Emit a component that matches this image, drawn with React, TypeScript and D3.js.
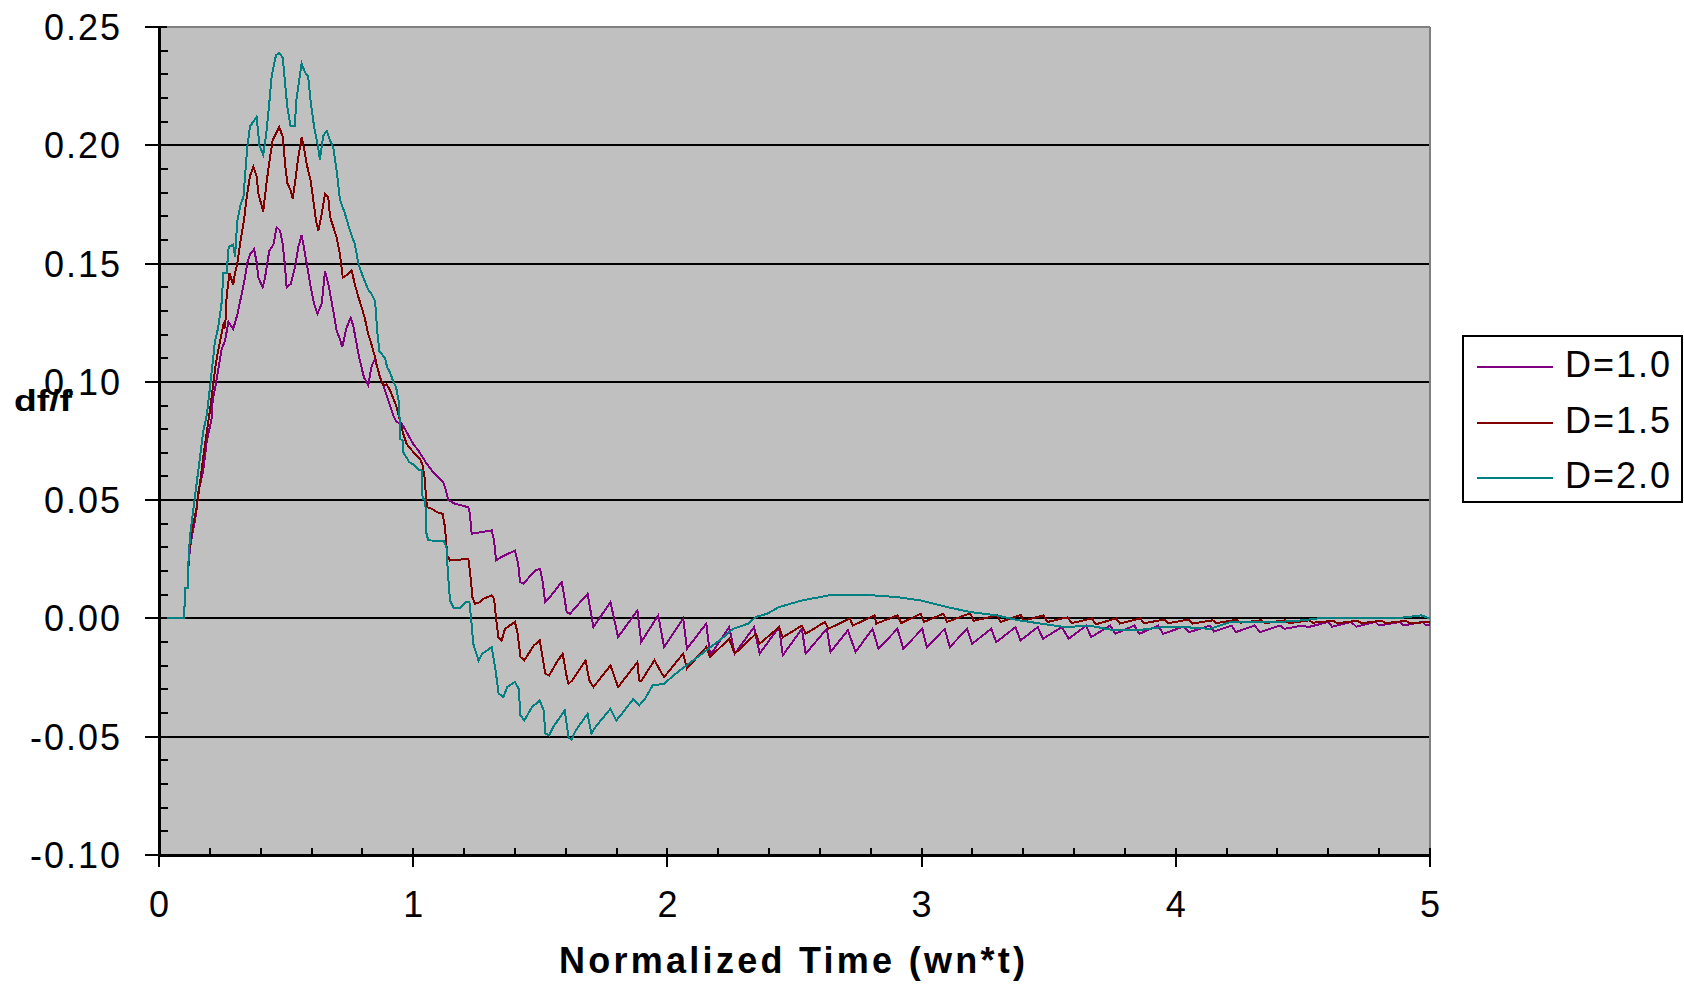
import React from 'react';
import * as d3 from 'd3';

// Step response of df/f: [normalized time, df/f]
const SERIES_NAMES = ['D=1.0', 'D=1.5', 'D=2.0'];

const D10: [number, number][] = [
  [0, 0], [0.1, 0], [0.101, 0.0127], [0.113, 0.0127], [0.116, 0.022], [0.122, 0.03], [0.135, 0.038], [0.146, 0.044],
  [0.155, 0.0535], [0.174, 0.0626], [0.188, 0.075], [0.207, 0.0844], [0.211, 0.092], [0.223, 0.0985],
  [0.236, 0.107], [0.247, 0.114], [0.26, 0.1175], [0.273, 0.1253], [0.292, 0.1224], [0.309, 0.1288],
  [0.325, 0.137], [0.338, 0.144], [0.347, 0.15], [0.358, 0.154], [0.374, 0.156], [0.384, 0.1507],
  [0.391, 0.144], [0.408, 0.14], [0.417, 0.144], [0.434, 0.1555], [0.45, 0.158], [0.463, 0.1654],
  [0.476, 0.164], [0.487, 0.158], [0.496, 0.1485], [0.502, 0.14], [0.518, 0.1414], [0.535, 0.1485],
  [0.548, 0.157], [0.561, 0.162], [0.57, 0.157], [0.581, 0.15], [0.597, 0.14], [0.61, 0.133],
  [0.623, 0.1288], [0.64, 0.133], [0.653, 0.1466], [0.666, 0.1414], [0.679, 0.134], [0.692, 0.126],
  [0.699, 0.1217], [0.712, 0.118], [0.721, 0.1147], [0.738, 0.123], [0.754, 0.127], [0.764, 0.1238],
  [0.775, 0.1175], [0.784, 0.112], [0.797, 0.106], [0.806, 0.102], [0.823, 0.0985], [0.837, 0.107],
  [0.85, 0.1097], [0.859, 0.106], [0.872, 0.1013], [0.885, 0.0978], [0.898, 0.0936], [0.911, 0.0893],
  [0.924, 0.0851], [0.935, 0.083], [0.955, 0.0823], [0.968, 0.08], [0.985, 0.0766], [1.0, 0.0738],
  [1.02, 0.071], [1.033, 0.0689], [1.053, 0.0654], [1.073, 0.0626], [1.092, 0.0604], [1.112, 0.0583],
  [1.121, 0.0569], [1.132, 0.0527], [1.138, 0.05], [1.164, 0.0485], [1.217, 0.047], [1.223, 0.0442],
  [1.23, 0.0358], [1.269, 0.0365], [1.309, 0.0372], [1.318, 0.033], [1.326, 0.0245], [1.348, 0.026],
  [1.4, 0.0287], [1.413, 0.0231], [1.42, 0.0154], [1.433, 0.0147], [1.481, 0.0203], [1.499, 0.021],
  [1.51, 0.015], [1.519, 0.0069], [1.538, 0.009], [1.584, 0.0154], [1.59, 0.012], [1.604, 0.0027],
  [1.617, 0.002], [1.686, 0.0104], [1.709, -0.0037], [1.776, 0.0069], [1.806, -0.0079], [1.882, 0.0034],
  [1.897, -0.01], [1.964, 0.0013], [1.987, -0.0121], [2.062, 0], [2.077, -0.0128], [2.153, -0.0022],
  [2.168, -0.0156], [2.243, -0.0037], [2.265, -0.0149], [2.341, -0.0037], [2.363, -0.0149],
  [2.439, -0.0037], [2.454, -0.0156], [2.529, -0.0044], [2.544, -0.0149], [2.627, -0.0044],
  [2.642, -0.0142], [2.71, -0.005], [2.74, -0.0142], [2.807, -0.0044], [2.83, -0.0128], [2.905, -0.0044],
  [2.928, -0.0128], [3.003, -0.0044], [3.02, -0.0121], [3.091, -0.0044], [3.111, -0.0121],
  [3.179, -0.0044], [3.199, -0.0107], [3.274, -0.0044], [3.294, -0.01], [3.369, -0.0037],
  [3.389, -0.0093], [3.457, -0.0037], [3.477, -0.0086], [3.552, -0.0037], [3.579, -0.0086],
  [3.647, -0.003], [3.667, -0.0079], [3.742, -0.003], [3.762, -0.0065], [3.837, -0.003],
  [3.857, -0.0065], [3.931, -0.003], [3.95, -0.0065], [4.03, -0.0035], [4.053, -0.0058],
  [4.134, -0.003], [4.15, -0.0055], [4.22, -0.003], [4.236, -0.0058], [4.31, -0.003], [4.331, -0.0058],
  [4.41, -0.003], [4.427, -0.0044], [4.5, -0.003], [4.52, -0.0037], [4.6, -0.0015], [4.615, -0.0035],
  [4.69, -0.0015], [4.71, -0.0035], [4.785, -0.0015], [4.8, -0.003], [4.88, -0.0015], [4.895, -0.003],
  [4.97, -0.0015], [4.985, -0.003], [5.0, -0.0025],
];

const D15: [number, number][] = [
  [0, 0], [0.1, 0], [0.101, 0.0127], [0.113, 0.0127], [0.116, 0.023], [0.122, 0.033], [0.135, 0.04], [0.146, 0.0456],
  [0.161, 0.057], [0.174, 0.068], [0.188, 0.079], [0.198, 0.086], [0.211, 0.097], [0.224, 0.108],
  [0.236, 0.115], [0.255, 0.125], [0.26, 0.1226], [0.266, 0.136], [0.277, 0.146], [0.292, 0.141],
  [0.299, 0.146], [0.308, 0.15], [0.321, 0.16], [0.334, 0.168], [0.345, 0.178], [0.358, 0.187],
  [0.371, 0.191], [0.384, 0.187], [0.391, 0.1795], [0.41, 0.172], [0.424, 0.185], [0.437, 0.195],
  [0.447, 0.202], [0.46, 0.205], [0.473, 0.2077], [0.487, 0.2035], [0.496, 0.192], [0.505, 0.184],
  [0.518, 0.181], [0.526, 0.1774], [0.535, 0.184], [0.548, 0.195], [0.561, 0.2035], [0.57, 0.199],
  [0.581, 0.192], [0.597, 0.185], [0.607, 0.1767], [0.618, 0.168], [0.627, 0.164], [0.64, 0.171],
  [0.653, 0.1795], [0.666, 0.178], [0.673, 0.1697], [0.686, 0.1654], [0.699, 0.161], [0.712, 0.154],
  [0.723, 0.144], [0.745, 0.1457], [0.758, 0.147], [0.771, 0.141], [0.784, 0.136], [0.797, 0.1316],
  [0.81, 0.1267], [0.823, 0.1203], [0.837, 0.1154], [0.85, 0.1104], [0.859, 0.106], [0.869, 0.102],
  [0.882, 0.0985], [0.895, 0.099], [0.909, 0.0964], [0.922, 0.0929], [0.935, 0.0893], [0.948, 0.0837],
  [0.961, 0.078], [0.974, 0.0738], [0.99, 0.0717], [1.011, 0.0689], [1.027, 0.0675], [1.037, 0.0647],
  [1.046, 0.059], [1.05, 0.0513], [1.055, 0.047], [1.073, 0.0464], [1.092, 0.045], [1.116, 0.0442],
  [1.125, 0.0386], [1.134, 0.0266], [1.145, 0.0245], [1.217, 0.0252], [1.223, 0.0203], [1.233, 0.009],
  [1.243, 0.0062], [1.263, 0.0069], [1.276, 0.0083], [1.309, 0.0097], [1.318, 0.0083], [1.326, 0],
  [1.335, -0.0079], [1.348, -0.0093], [1.361, -0.0044], [1.4, -0.0015], [1.41, -0.0058],
  [1.422, -0.0163], [1.437, -0.0177], [1.475, -0.0114], [1.498, -0.0093], [1.513, -0.0191],
  [1.52, -0.0234], [1.535, -0.0241], [1.565, -0.0185], [1.588, -0.0149], [1.603, -0.0241],
  [1.611, -0.0276], [1.626, -0.0262], [1.678, -0.0177], [1.693, -0.0262], [1.709, -0.029],
  [1.776, -0.0199], [1.799, -0.0269], [1.806, -0.029], [1.882, -0.0185], [1.889, -0.0262],
  [1.897, -0.0265], [1.949, -0.0177], [1.979, -0.0234], [1.987, -0.0248], [2.062, -0.0149],
  [2.077, -0.0212], [2.153, -0.0121], [2.168, -0.0163], [2.243, -0.0086], [2.265, -0.0149],
  [2.348, -0.0065], [2.363, -0.0107], [2.439, -0.0037], [2.454, -0.008], [2.529, -0.003],
  [2.544, -0.0065], [2.619, -0.0015], [2.634, -0.0044], [2.717, 0], [2.73, -0.003], [2.815, 0.0013],
  [2.822, -0.0022], [2.905, 0.0013], [2.92, -0.002], [2.996, 0.002], [3.01, -0.0015], [3.086, 0.002],
  [3.1, -0.0015], [3.191, 0.0022], [3.205, -0.001], [3.297, 0.0013], [3.31, -0.0015], [3.39, 0.0015],
  [3.4, -0.001], [3.48, 0.0013], [3.495, -0.0015], [3.575, 0.0005], [3.59, -0.002], [3.67, 0],
  [3.685, -0.0025], [3.765, 0], [3.78, -0.0022], [3.86, 0], [3.875, -0.002], [3.955, -0.0005],
  [3.97, -0.002], [4.05, -0.0005], [4.065, -0.0022], [4.145, -0.0008], [4.16, -0.002], [4.24, -0.0005],
  [4.255, -0.0018], [4.335, -0.0008], [4.35, -0.002], [4.43, -0.0008], [4.445, -0.002],
  [4.525, -0.0008], [4.54, -0.0018], [4.62, -0.001], [4.635, -0.002], [4.715, -0.001], [4.73, -0.002],
  [4.81, -0.001], [4.825, -0.002], [4.905, -0.001], [4.92, -0.002], [5.0, -0.0015],
];

const D20: [number, number][] = [
  [0, 0], [0.1, 0], [0.101, 0.0127], [0.113, 0.0127], [0.116, 0.024], [0.122, 0.035], [0.135, 0.046], [0.148, 0.057],
  [0.161, 0.068], [0.174, 0.079], [0.188, 0.086], [0.201, 0.098], [0.211, 0.108], [0.22, 0.117],
  [0.233, 0.123], [0.247, 0.134], [0.253, 0.146], [0.266, 0.146], [0.274, 0.157], [0.292, 0.158],
  [0.299, 0.153], [0.308, 0.168], [0.321, 0.175], [0.332, 0.178], [0.347, 0.199], [0.358, 0.208],
  [0.371, 0.21], [0.384, 0.212], [0.395, 0.2], [0.41, 0.196], [0.421, 0.204], [0.434, 0.218],
  [0.443, 0.229], [0.46, 0.238], [0.473, 0.239], [0.487, 0.237], [0.496, 0.226], [0.505, 0.216],
  [0.518, 0.208], [0.535, 0.208], [0.539, 0.218], [0.548, 0.225], [0.561, 0.2346], [0.574, 0.231],
  [0.587, 0.229], [0.597, 0.218], [0.61, 0.208], [0.623, 0.201], [0.633, 0.194], [0.646, 0.204],
  [0.66, 0.206], [0.673, 0.202], [0.686, 0.199], [0.699, 0.189], [0.712, 0.177], [0.732, 0.171],
  [0.751, 0.164], [0.771, 0.158], [0.784, 0.15], [0.804, 0.144], [0.823, 0.139], [0.837, 0.137],
  [0.85, 0.134], [0.859, 0.121], [0.867, 0.113], [0.889, 0.11], [0.898, 0.106], [0.909, 0.104],
  [0.922, 0.1], [0.932, 0.098], [0.945, 0.091], [0.948, 0.076], [0.959, 0.075], [0.962, 0.07],
  [0.974, 0.068], [0.985, 0.066], [1.003, 0.065], [1.02, 0.063], [1.033, 0.0625], [1.037, 0.0507],
  [1.048, 0.05], [1.05, 0.037], [1.059, 0.033], [1.121, 0.0327], [1.132, 0.0296], [1.136, 0.0196],
  [1.145, 0.0076], [1.158, 0.0046], [1.186, 0.0046], [1.206, 0.0069], [1.221, 0.0069], [1.228, 0],
  [1.236, -0.0106], [1.257, -0.0178], [1.272, -0.0149], [1.309, -0.0121], [1.325, -0.0227],
  [1.336, -0.0318], [1.355, -0.0332], [1.37, -0.029], [1.4, -0.0269], [1.415, -0.0297],
  [1.422, -0.041], [1.437, -0.0431], [1.467, -0.0375], [1.498, -0.0347], [1.513, -0.0389],
  [1.52, -0.0487], [1.535, -0.0494], [1.55, -0.046], [1.596, -0.0389], [1.611, -0.0502],
  [1.622, -0.0513], [1.64, -0.0473], [1.686, -0.0403], [1.701, -0.0487], [1.716, -0.046],
  [1.776, -0.0382], [1.799, -0.0431], [1.821, -0.0403], [1.866, -0.034], [1.889, -0.0368],
  [1.912, -0.034], [1.942, -0.0283], [1.987, -0.0276], [2.032, -0.0234], [2.092, -0.0185],
  [2.153, -0.0135], [2.213, -0.0086], [2.258, -0.0044], [2.318, -0.0022], [2.348, 0.0006],
  [2.393, 0.002], [2.439, 0.0048], [2.529, 0.0076], [2.634, 0.0097], [2.815, 0.0097], [2.905, 0.009],
  [2.996, 0.0076], [3.101, 0.0048], [3.191, 0.0027], [3.294, 0.0013], [3.382, -0.0008],
  [3.47, -0.0022], [3.565, -0.0037], [3.66, -0.003], [3.755, -0.005], [3.85, -0.005], [3.944, -0.0037],
  [4.039, -0.0037], [4.134, -0.0044], [4.216, -0.0015], [4.31, -0.0015], [4.405, -0.0015],
  [4.5, -0.0008], [4.581, 0.0003], [4.676, 0], [4.771, 0], [4.866, 0], [4.965, 0.0013], [5.0, 0],
];

const X_TICKS = [0, 1, 2, 3, 4, 5];
const Y_TICKS = [-0.1, -0.05, 0, 0.05, 0.1, 0.15, 0.2, 0.25];

const COLORS = ['#800080', '#800000', '#008080'];
const FONT = '"Liberation Sans", Arial, sans-serif';

export default function App() {
  const width = 1684;
  const height = 984;
  const left = 159;
  const right = 1430;
  const top = 27;
  const bottom = 855;

  const x = d3.scaleLinear().domain([0, 5]).range([left, right]);
  const y = d3.scaleLinear().domain([-0.1, 0.25]).range([bottom, top]);

  const line = d3
    .line<[number, number]>()
    .x(d => x(d[0]))
    .y(d => y(d[1]));

  const series = [D10, D15, D20];

  // minor ticks: 0.2 on x, 0.01 on y
  const xMinor = d3.range(1, 25).map(i => i * 0.2).filter((_, i) => (i + 1) % 5 !== 0);
  const yMinor = d3.range(1, 35).map(i => -0.1 + i * 0.01).filter((_, i) => (i + 1) % 5 !== 0);

  return (
    <svg
      width={width}
      height={height}
      style={{ position: 'absolute', left: 0, top: 0, background: '#fff' }}
      shapeRendering="crispEdges"
    >
      <rect x={left} y={top} width={right - left} height={bottom - top} fill="#c0c0c0" />

      {/* gridlines */}
      {Y_TICKS.filter(v => v > -0.1 && v < 0.25).map(v => (
        <line key={`g${v}`} x1={left} x2={right} y1={y(v)} y2={y(v)} stroke="#000" strokeWidth={2} />
      ))}

      {/* plot border (top / right in grey) */}
      <line x1={left} x2={right} y1={top} y2={top} stroke="#808080" strokeWidth={2} />
      <line x1={right} x2={right} y1={top} y2={bottom} stroke="#808080" strokeWidth={2} />

      {/* series */}
      {series.map((s, i) => (
        <path key={SERIES_NAMES[i]} d={line(s) ?? ''} fill="none" stroke={COLORS[i]} strokeWidth={2} />
      ))}

      {/* y axis */}
      <line x1={left} x2={left} y1={top - 1} y2={bottom + 1} stroke="#000" strokeWidth={3} />
      {Y_TICKS.map(v => (
        <line key={`yt${v}`} x1={left - 14} x2={left + 8} y1={y(v)} y2={y(v)} stroke="#000" strokeWidth={2} />
      ))}
      {yMinor.map(v => (
        <line key={`ym${v}`} x1={left} x2={left + 9} y1={y(v)} y2={y(v)} stroke="#000" strokeWidth={2} />
      ))}
      {Y_TICKS.map(v => (
        <text
          key={`yl${v}`}
          x={122}
          y={y(v) + 13}
          textAnchor="end"
          fontFamily={FONT}
          fontSize={36}
          letterSpacing={2}
          fill="#000"
        >
          {v.toFixed(2)}
        </text>
      ))}

      {/* x axis */}
      <line x1={left} x2={right} y1={bottom} y2={bottom} stroke="#000" strokeWidth={3} />
      {X_TICKS.map(t => (
        <line key={`xt${t}`} x1={x(t)} x2={x(t)} y1={bottom - 7} y2={bottom + 12} stroke="#000" strokeWidth={2} />
      ))}
      {xMinor.map(t => (
        <line key={`xm${t}`} x1={x(t)} x2={x(t)} y1={bottom - 7} y2={bottom} stroke="#000" strokeWidth={2} />
      ))}
      {X_TICKS.map(t => (
        <text
          key={`xl${t}`}
          x={x(t)}
          y={917}
          textAnchor="middle"
          fontFamily={FONT}
          fontSize={36}
          fill="#000"
        >
          {t}
        </text>
      ))}

      {/* axis titles */}
      <text
        x={792}
        y={973}
        textAnchor="middle"
        fontFamily={FONT}
        fontWeight="bold"
        fontSize={36}
        textLength={466}
        lengthAdjust="spacing"
        fill="#000"
      >
        Normalized Time (wn*t)
      </text>
      <text
        x={14}
        y={411}
        fontFamily={FONT}
        fontWeight="bold"
        fontSize={29}
        textLength={58}
        lengthAdjust="spacingAndGlyphs"
        fill="#000"
      >
        df/f
      </text>

      {/* legend */}
      <rect x={1463} y={336} width={219} height={166} fill="#fff" stroke="#000" strokeWidth={2} />
      {SERIES_NAMES.map((name, i) => {
        const ly = [367, 423, 478][i];
        return (
          <g key={name}>
            <line x1={1477} x2={1553} y1={ly} y2={ly} stroke={COLORS[i]} strokeWidth={2} />
            <text
              x={1565}
              y={ly + 10}
              fontFamily={FONT}
              fontSize={36}
              letterSpacing={2}
              fill="#000"
            >
              {name}
            </text>
          </g>
        );
      })}
    </svg>
  );
}
